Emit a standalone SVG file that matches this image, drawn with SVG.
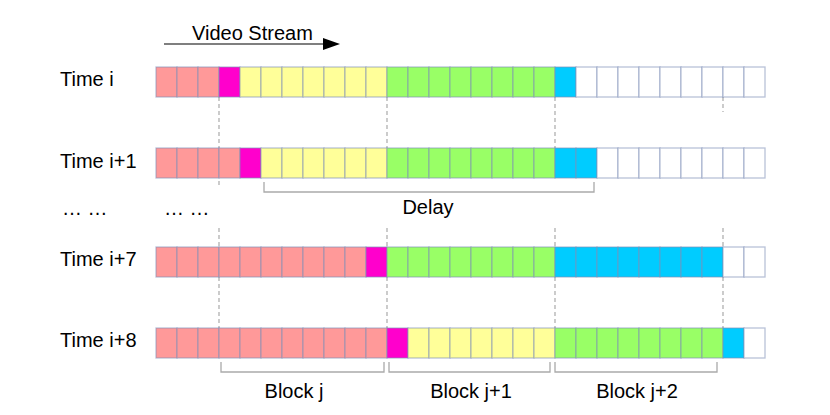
<svg xmlns="http://www.w3.org/2000/svg" width="830" height="415" viewBox="0 0 830 415">
<style>
text{font-family:"Liberation Sans",Arial,sans-serif;font-size:20px;fill:#000}
.c{stroke:#7f8fb8;stroke-opacity:0.55;stroke-width:1.3}
.p{fill:#ff9999}.m{fill:#ff00cc}.y{fill:#ffff99}.g{fill:#99ff66}.b{fill:#00ccff}.w{fill:#ffffff}
.d{stroke:#aaaaaa;stroke-width:1.2;stroke-dasharray:4 3;fill:none}
.br{stroke:#aaaaaa;stroke-width:1.3;fill:none}
</style>
<defs>
<rect id="cell" width="21" height="30"/>
</defs>
<rect width="830" height="415" fill="#ffffff"/>
<g id="connectors">
<path class="d" d="M219,97V188M387,97V148M555,97V148M723,97V112"/>
<path class="d" d="M219,228V328M387,228V328M555,228V328M723,228V328"/>
<path class="br" d="M264,182V192H594V182"/>
<path class="br" d="M221,362V372H384V362M389,362V372H550V362M555,362V372H717V362"/>
<line x1="164" y1="44" x2="324" y2="44" stroke="#000" stroke-width="1.2"/>
<polygon points="323,38 340,44 323,50" fill="#000"/>
</g>
<g id="label-video-stream"><text x="192" y="40">Video Stream</text></g>
<g id="label-time-i"><text x="60" y="86">Time i</text></g>
<g id="label-time-i1"><text x="60" y="168">Time i+1</text></g>
<g id="label-dots"><text x="62" y="215">… …</text><text x="164" y="215">… …</text></g>
<g id="label-time-i7"><text x="60" y="266">Time i+7</text></g>
<g id="label-time-i8"><text x="60" y="347">Time i+8</text></g>
<g id="label-delay"><text x="428" y="214" text-anchor="middle">Delay</text></g>
<g id="label-block-j"><text x="294" y="398" text-anchor="middle">Block j</text></g>
<g id="label-block-j1"><text x="471" y="398" text-anchor="middle">Block j+1</text></g>
<g id="label-block-j2"><text x="637" y="398" text-anchor="middle">Block j+2</text></g>
<g id="row-time-i" transform="translate(0,67)">
<use href="#cell" x="156" class="c p"/><use href="#cell" x="177" class="c p"/><use href="#cell" x="198" class="c p"/>
<use href="#cell" x="219" class="c m"/>
<use href="#cell" x="240" class="c y"/><use href="#cell" x="261" class="c y"/><use href="#cell" x="282" class="c y"/><use href="#cell" x="303" class="c y"/><use href="#cell" x="324" class="c y"/><use href="#cell" x="345" class="c y"/><use href="#cell" x="366" class="c y"/>
<use href="#cell" x="387" class="c g"/><use href="#cell" x="408" class="c g"/><use href="#cell" x="429" class="c g"/><use href="#cell" x="450" class="c g"/><use href="#cell" x="471" class="c g"/><use href="#cell" x="492" class="c g"/><use href="#cell" x="513" class="c g"/><use href="#cell" x="534" class="c g"/>
<use href="#cell" x="555" class="c b"/>
<use href="#cell" x="576" class="c w"/><use href="#cell" x="597" class="c w"/><use href="#cell" x="618" class="c w"/><use href="#cell" x="639" class="c w"/><use href="#cell" x="660" class="c w"/><use href="#cell" x="681" class="c w"/><use href="#cell" x="702" class="c w"/><use href="#cell" x="723" class="c w"/><use href="#cell" x="744" class="c w"/>
</g>
<g id="row-time-i1" transform="translate(0,148)">
<use href="#cell" x="156" class="c p"/><use href="#cell" x="177" class="c p"/><use href="#cell" x="198" class="c p"/><use href="#cell" x="219" class="c p"/>
<use href="#cell" x="240" class="c m"/>
<use href="#cell" x="261" class="c y"/><use href="#cell" x="282" class="c y"/><use href="#cell" x="303" class="c y"/><use href="#cell" x="324" class="c y"/><use href="#cell" x="345" class="c y"/><use href="#cell" x="366" class="c y"/>
<use href="#cell" x="387" class="c g"/><use href="#cell" x="408" class="c g"/><use href="#cell" x="429" class="c g"/><use href="#cell" x="450" class="c g"/><use href="#cell" x="471" class="c g"/><use href="#cell" x="492" class="c g"/><use href="#cell" x="513" class="c g"/><use href="#cell" x="534" class="c g"/>
<use href="#cell" x="555" class="c b"/><use href="#cell" x="576" class="c b"/>
<use href="#cell" x="597" class="c w"/><use href="#cell" x="618" class="c w"/><use href="#cell" x="639" class="c w"/><use href="#cell" x="660" class="c w"/><use href="#cell" x="681" class="c w"/><use href="#cell" x="702" class="c w"/><use href="#cell" x="723" class="c w"/><use href="#cell" x="744" class="c w"/>
</g>
<g id="row-time-i7" transform="translate(0,247)">
<use href="#cell" x="156" class="c p"/><use href="#cell" x="177" class="c p"/><use href="#cell" x="198" class="c p"/><use href="#cell" x="219" class="c p"/><use href="#cell" x="240" class="c p"/><use href="#cell" x="261" class="c p"/><use href="#cell" x="282" class="c p"/><use href="#cell" x="303" class="c p"/><use href="#cell" x="324" class="c p"/><use href="#cell" x="345" class="c p"/>
<use href="#cell" x="366" class="c m"/>
<use href="#cell" x="387" class="c g"/><use href="#cell" x="408" class="c g"/><use href="#cell" x="429" class="c g"/><use href="#cell" x="450" class="c g"/><use href="#cell" x="471" class="c g"/><use href="#cell" x="492" class="c g"/><use href="#cell" x="513" class="c g"/><use href="#cell" x="534" class="c g"/>
<use href="#cell" x="555" class="c b"/><use href="#cell" x="576" class="c b"/><use href="#cell" x="597" class="c b"/><use href="#cell" x="618" class="c b"/><use href="#cell" x="639" class="c b"/><use href="#cell" x="660" class="c b"/><use href="#cell" x="681" class="c b"/><use href="#cell" x="702" class="c b"/>
<use href="#cell" x="723" class="c w"/><use href="#cell" x="744" class="c w"/>
</g>
<g id="row-time-i8" transform="translate(0,328)">
<use href="#cell" x="156" class="c p"/><use href="#cell" x="177" class="c p"/><use href="#cell" x="198" class="c p"/><use href="#cell" x="219" class="c p"/><use href="#cell" x="240" class="c p"/><use href="#cell" x="261" class="c p"/><use href="#cell" x="282" class="c p"/><use href="#cell" x="303" class="c p"/><use href="#cell" x="324" class="c p"/><use href="#cell" x="345" class="c p"/><use href="#cell" x="366" class="c p"/>
<use href="#cell" x="387" class="c m"/>
<use href="#cell" x="408" class="c y"/><use href="#cell" x="429" class="c y"/><use href="#cell" x="450" class="c y"/><use href="#cell" x="471" class="c y"/><use href="#cell" x="492" class="c y"/><use href="#cell" x="513" class="c y"/><use href="#cell" x="534" class="c y"/>
<use href="#cell" x="555" class="c g"/><use href="#cell" x="576" class="c g"/><use href="#cell" x="597" class="c g"/><use href="#cell" x="618" class="c g"/><use href="#cell" x="639" class="c g"/><use href="#cell" x="660" class="c g"/><use href="#cell" x="681" class="c g"/><use href="#cell" x="702" class="c g"/>
<use href="#cell" x="723" class="c b"/>
<use href="#cell" x="744" class="c w"/>
</g>
</svg>
